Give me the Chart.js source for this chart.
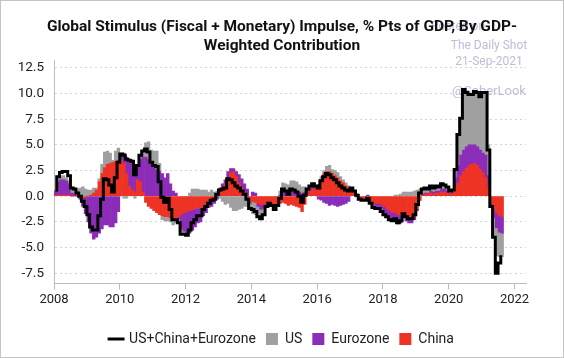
<!DOCTYPE html>
<html>
<head>
<meta charset="utf-8">
<script src="https://cdn.jsdelivr.net/npm/chart.js@4.4.0/dist/chart.umd.min.js"></script>
<style>
  html, body { margin: 0; padding: 0; background: #fff; }
  #wrap { width: 564px; height: 358px; position: relative; }
</style>
</head>
<body>
<div id="wrap"><canvas id="chart"></canvas></div>
<script>
// monthly series, Jan 2008 .. Aug 2021 (one row per year)
const startYear = 2008;

const china = [
  0.1, 0.1, 0.1, 0.1, 0.1, 0.1, 0.0, 0.0, 0.0, -0.1, -0.1, -0.1,
  0.0, 0.1, 0.3, 0.6, 1.4, 2.2, 2.8, 3.1, 3.2, 3.3, 3.4, 3.5,
  3.5, 3.2, 2.2, 1.0, 0.6, 0.4, 1.6, 1.4, 0.4, -0.6, -1.0, -1.2,
  -1.4, -1.6, -1.8, -1.9, -2.0, -2.0, -2.1, -2.2, -2.1, -2.0, -1.8, -1.6,
  -1.5, -1.4, -1.3, -1.2, -1.2, -1.1, -1.0, -0.9, -0.6, -0.4, -0.2, 0.0,
  0.4, 0.7, 1.2, 1.8, 2.3, 2.4, 1.9, 1.3, 0.8, 0.4, -0.2, -0.4,
  -0.5, -0.6, -0.7, -0.8, -0.8, -0.7, -0.6, -0.7, -0.9, -0.8, -0.7, -0.6,
  -0.7, -0.9, -0.8, -0.9, -1.0, -1.1, -1.5, -0.8, 0.2, 0.5, 0.7, 0.8,
  1.1, 1.6, 2.2, 2.4, 2.4, 2.2, 2.0, 1.8, 1.5, 1.3, 1.0, 0.8,
  0.6, 0.3, 0.1, -0.2, -0.3, -0.3, -0.3, -0.5, -0.6, -0.7, -0.7, -0.8,
  -1.0, -1.2, -1.4, -1.6, -1.6, -1.8, -1.9, -1.6, -1.8, -2.0, -2.1, -2.0,
  -1.2, -0.4, 0.1, 0.2, 0.2, 0.3, 0.2, 0.3, 0.3, 0.4, 0.4, 0.3,
  0.2, 0.3, 1.0, 1.3, 2.0, 2.4, 2.7, 3.0, 3.1, 3.2, 3.0, 2.6,
  2.3, 1.8, 0.8, -0.6, -1.2, -1.6, -1.9, -2.0
];

const eurozone = [
  0.4, 1.3, 1.5, 1.5, 1.4, 1.1, 0.3, 0.2, 0.1, -0.2, -0.9, -1.6,
  -2.5, -3.6, -4.2, -4.0, -3.6, -3.2, -2.8, -2.8, -3.0, -3.0, -2.6, -1.5,
  0.4, 1.0, 1.6, 2.4, 2.6, 1.9, 1.4, 2.2, 3.4, 3.8, 3.6, 3.2,
  2.8, 2.6, 2.4, 2.2, 1.8, 2.2, 1.2, 0.5, 0.3, -0.2, -1.4, -1.8,
  -2.2, -2.2, -2.0, -1.8, -1.4, -1.4, -0.9, -0.7, -0.5, -0.6, -0.5, -0.3,
  0.4, 0.5, 0.4, 0.6, 0.4, 0.3, 0.5, 0.8, 0.9, 0.8, 0.7, -0.3,
  0.4, 0.3, -0.3, -0.5, -0.4, -0.1, -0.1, -0.1, -0.3, -0.1, 0.1, 0.4,
  0.4, 0.3, 0.5, 0.5, 0.5, 0.4, 0.3, 0.4, 0.4, 0.3, 0.3, 0.1,
  -0.3, -0.4, -0.6, -0.7, -0.9, -0.8, -0.9, -1.0, -0.9, -0.8, -0.7, -0.5,
  0.2, 0.2, 0.1, -0.1, -0.1, -0.1, 0.1, -0.2, -0.2, -0.3, -0.3, -0.4,
  -0.6, -0.7, -0.8, -0.8, -0.7, -0.9, -0.7, -0.5, -0.6, -0.6, -0.5, -0.3,
  -0.2, 0.0, 0.1, 0.1, 0.1, 0.2, 0.2, 0.2, 0.2, 0.3, 0.3, 0.2,
  0.1, 0.1, 0.8, 1.7, 2.0, 2.1, 2.1, 2.0, 1.9, 1.8, 1.8, 1.9,
  1.9, 2.2, 1.2, -0.3, -0.9, -1.5, -1.6, -1.6
];

const us = [
  0.1, 0.3, 0.4, 0.4, 0.3, 0.3, 0.5, 0.6, 0.6, 0.8, 0.9, 0.7,
  0.6, 0.5, 0.5, 0.2, 0.3, 0.9, 1.5, 1.3, 1.0, 0.2, 1.0, 1.2,
  0.3, -0.2, -0.2, 0.1, 0.2, -0.2, 0.0, 0.4, 0.6, 1.4, 1.7, 1.3,
  1.6, 1.8, 0.8, -0.4, -0.4, -0.4, -0.4, -0.6, -0.5, -0.4, -0.5, -0.3,
  -0.1, 0.3, 0.7, 0.7, 0.7, 0.6, 0.6, 0.6, 0.4, 0.6, 0.4, 0.5,
  -0.2, -0.5, -0.8, -0.7, -1.1, -1.4, -1.4, -1.3, -1.2, -1.0, -0.8, -0.5,
  -1.2, -1.2, -1.0, -0.9, -0.6, -0.2, 0.0, -0.1, -0.1, 0.0, 0.4, 0.9,
  0.8, 0.8, 1.0, 1.0, 0.9, 0.7, 0.6, 0.5, 0.1, 0.2, 0.2, 0.1,
  0.0, 0.3, 0.3, 0.5, 0.6, 0.4, 0.5, 0.5, 0.4, 0.3, 0.3, 0.2,
  0.0, 0.0, -0.1, 0.0, 0.0, 0.0, 0.0, 0.0, -0.3, -0.2, -0.2, -0.3,
  -0.2, -0.1, -0.1, 0.0, 0.1, 0.1, 0.2, 0.4, 0.4, 0.4, 0.4, 0.5,
  0.6, 0.7, 0.5, 0.5, 0.4, 0.5, 0.4, 0.5, 0.4, 0.5, 0.4, 0.4,
  0.2, 0.2, 0.8, 3.0, 3.6, 5.9, 5.3, 4.9, 4.9, 5.2, 5.3, 5.2,
  5.9, 6.1, 3.0, -0.1, -1.9, -2.7, -2.4, -2.3
];

const total = [
  0.6, 1.9, 2.3, 2.4, 2.4, 2.0, 0.8, 0.7, 0.3, 0.0, -0.5, -1.0,
  -1.8, -3.0, -3.3, -3.3, -1.9, -0.3, 1.7, 1.6, 1.1, 0.4, 1.8, 3.3,
  4.1, 4.0, 3.6, 3.5, 3.4, 2.1, 3.0, 4.0, 4.4, 4.6, 4.3, 3.3,
  3.0, 2.9, 1.4, -0.1, -0.6, -0.2, -1.3, -2.3, -2.3, -2.6, -3.7, -3.7,
  -3.8, -3.3, -2.6, -2.3, -1.9, -1.9, -1.3, -1.0, -0.7, -0.4, -0.3, 0.2,
  0.6, 0.7, 0.8, 1.7, 1.6, 1.3, 1.0, 0.8, 0.5, 0.2, -0.3, -1.2,
  -1.3, -1.5, -2.0, -2.2, -1.8, -1.0, -0.7, -0.9, -1.3, -0.9, -0.2, 0.7,
  0.5, 0.2, 0.7, 0.6, 0.4, 0.0, -0.6, 0.1, 0.7, 1.0, 1.2, 1.0,
  0.8, 1.5, 1.9, 2.2, 2.1, 1.8, 1.6, 1.3, 1.0, 0.8, 0.6, 0.5,
  0.8, 0.5, 0.1, -0.3, -0.4, -0.4, -0.2, -0.7, -1.1, -1.2, -1.2, -1.5,
  -1.8, -2.0, -2.3, -2.4, -2.2, -2.6, -2.4, -1.7, -2.0, -2.2, -2.2, -1.8,
  -0.8, 0.3, 0.7, 0.8, 0.7, 1.0, 0.8, 1.0, 0.9, 1.2, 1.1, 0.9,
  0.5, 0.6, 2.6, 6.0, 7.6, 10.4, 10.1, 9.9, 9.9, 10.2, 10.1, 9.7,
  10.1, 10.1, 4.5, -1.0, -4.0, -7.5, -6.5, -5.9
];

const xTicks = [2008, 2010, 2012, 2014, 2016, 2018, 2020, 2022];
const yTicks = [-7.5, -5.0, -2.5, 0.0, 2.5, 5.0, 7.5, 10.0, 12.5];
const legendOrder = ['US+China+Eurozone', 'US', 'Eurozone', 'China'];

// month i sits in the middle of its month on the time axis
const monthX = i => startYear + (i + 0.5) / 12;
const toPoints = arr => arr.map((v, i) => ({ x: monthX(i), y: v }));

const font = 'Roboto';

const watermark = {
  id: 'watermark',
  beforeDraw(chart) {
    const ctx = chart.ctx;
    ctx.save();
    ctx.fillStyle = 'rgba(170, 165, 205, 0.75)';
    ctx.font = '12px ' + font;
    ctx.textAlign = 'center';
    ctx.textBaseline = 'middle';
    ctx.fillText('Posted on', 458, 27);
    ctx.fillText('The Daily Shot', 489, 46);
    ctx.fillText('21-Sep-2021', 489, 62);
    ctx.font = '13px ' + font;
    ctx.fillText('@SoberLook', 489, 92);
    ctx.restore();
  },
  afterDraw(chart) {
    const ctx = chart.ctx;
    ctx.save();
    ctx.strokeStyle = '#c4c4c4';
    ctx.lineWidth = 1;
    ctx.strokeRect(0.5, 0.5, chart.width - 1, chart.height - 1);
    ctx.restore();
  }
};

new Chart(document.getElementById('chart'), {
  type: 'bar',
  data: {
    datasets: [
      {
        type: 'line',
        label: 'US+China+Eurozone',
        data: toPoints(total),
        borderColor: '#000',
        backgroundColor: '#000',
        borderWidth: 3,
        stepped: 'middle',
        pointRadius: 0,
        pointStyle: 'line',
        fill: false,
        order: 0
      },
      {
        label: 'China',
        data: toPoints(china),
        backgroundColor: '#ee3224',
        pointStyle: 'rect',
        order: 1
      },
      {
        label: 'Eurozone',
        data: toPoints(eurozone),
        backgroundColor: '#8b2db8',
        pointStyle: 'rect',
        order: 1
      },
      {
        label: 'US',
        data: toPoints(us),
        backgroundColor: '#a0a0a0',
        pointStyle: 'rect',
        order: 1
      }
    ]
  },
  options: {
    responsive: true,
    maintainAspectRatio: false,
    animation: false,
    layout: { padding: { left: 0, right: 0, top: 0, bottom: 2 } },
    datasets: {
      bar: { barPercentage: 1, categoryPercentage: 1, borderWidth: 0 }
    },
    scales: {
      x: {
        type: 'linear',
        min: 2008,
        max: 2022.35,
        stacked: true,
        offset: false,
        afterBuildTicks: s => { s.ticks = xTicks.map(v => ({ value: v })); },
        afterFit: s => { s.height += 11; },
        ticks: {
          callback: v => String(v),
          font: { family: font, size: 13 },
          color: '#222',
          padding: 3,
          maxRotation: 0
        },
        grid: { drawOnChartArea: false, drawTicks: true, tickLength: 6, color: '#bdbdbd', offset: false },
        border: { display: true, color: '#bdbdbd' }
      },
      y: {
        stacked: true,
        min: -8.5,
        max: 13.2,
        afterBuildTicks: s => { s.ticks = yTicks.map(v => ({ value: v })); },
        afterFit: s => { s.width = 54; },
        ticks: {
          callback: v => v.toFixed(1),
          font: { family: font, size: 13.5 },
          color: '#222',
          padding: 10
        },
        grid: { drawTicks: false, color: '#d4d4d4' },
        border: { display: true, color: '#bdbdbd', dash: [2, 3] }
      },
      y2: {
        position: 'right',
        display: true,
        afterFit: s => { s.width = 38; },
        ticks: { display: false },
        grid: { display: false },
        border: { display: false }
      }
    },
    plugins: {
      title: {
        display: true,
        text: ['Global Stimulus (Fiscal + Monetary) Impulse, % Pts of GDP, By GDP-', 'Weighted Contribution'],
        font: { family: font, size: 15.5, weight: 'bold', lineHeight: 1.25 },
        color: '#111',
        padding: { top: 17, bottom: 5 }
      },
      legend: {
        position: 'bottom',
        labels: {
          usePointStyle: true,
          boxWidth: 12,
          boxHeight: 12,
          padding: 10,
          font: { family: font, size: 14 },
          color: '#222',
          sort: (a, b) => legendOrder.indexOf(a.text) - legendOrder.indexOf(b.text)
        }
      },
      tooltip: { enabled: false }
    }
  },
  plugins: [watermark]
});
</script>
</body>
</html>
